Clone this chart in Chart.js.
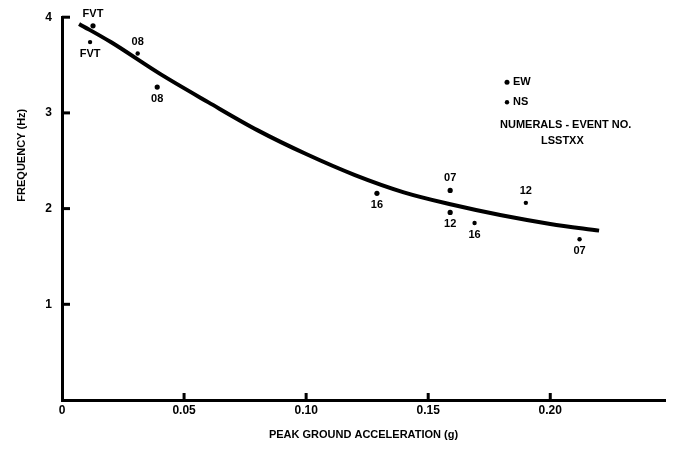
<!DOCTYPE html>
<html>
<head>
<meta charset="utf-8">
<script src="https://cdn.jsdelivr.net/npm/chart.js@4"></script>
<style>
  html, body { margin: 0; padding: 0; background: #fff; }
  #wrap { width: 673px; height: 468px; }
</style>
</head>
<body>
<div id="wrap"><canvas class="js-chart"></canvas></div>
<script>
const xTicks = [0, 0.05, 0.1, 0.15, 0.2];
const xTickLabels = ["0", "0.05", "0.10", "0.15", "0.20"];
const yTicks = [1, 2, 3, 4];

// measured points, east-west and north-south components
const ewAccel = [0.0127, 0.039, 0.129, 0.159, 0.159];
const ewFreq = [3.91, 3.27, 2.16, 2.19, 1.96];
const ewEvent = ["FVT", "08", "16", "07", "12"];
const ewAbove = [true, false, false, true, false];

const nsAccel = [0.0115, 0.031, 0.169, 0.19, 0.212];
const nsFreq = [3.74, 3.62, 1.85, 2.06, 1.68];
const nsEvent = ["FVT", "08", "16", "12", "07"];
const nsAbove = [false, true, false, true, false];

// fitted trend
const fitAccel = [0.007, 0.02, 0.04, 0.06, 0.08, 0.1, 0.12, 0.14, 0.16, 0.18, 0.2, 0.22];
const fitFreq = [3.93, 3.74, 3.41, 3.11, 2.82, 2.57, 2.35, 2.17, 2.04, 1.93, 1.84, 1.77];

const FONT = "'Liberation Sans', Arial, sans-serif";

function toPoints(xs, ys) {
  return xs.map((x, i) => ({ x, y: ys[i] }));
}

const pointLabels = {
  id: "pointLabels",
  afterDatasetsDraw(chart) {
    const ctx = chart.ctx;
    ctx.save();
    ctx.fillStyle = "#000";
    ctx.font = "bold 11px " + FONT;
    ctx.textAlign = "center";
    ctx.textBaseline = "middle";
    chart.data.datasets.forEach((ds, di) => {
      if (!ds.events) return;
      chart.getDatasetMeta(di).data.forEach((el, i) => {
        const dy = ds.above[i] ? -12 : 12;
        ctx.fillText(ds.events[i], el.x, el.y + dy);
      });
    });
    ctx.restore();
  },
};

const axisDecor = {
  id: "axisDecor",
  afterDraw(chart) {
    const ctx = chart.ctx;
    const x = chart.scales.x;
    const y = chart.scales.y;
    const area = chart.chartArea;
    ctx.save();
    ctx.strokeStyle = "#000";
    ctx.lineWidth = 3;
    // inward tick marks
    xTicks.slice(1).forEach((v) => {
      const px = x.getPixelForValue(v);
      ctx.beginPath();
      ctx.moveTo(px, area.bottom);
      ctx.lineTo(px, area.bottom - 7);
      ctx.stroke();
    });
    yTicks.forEach((v) => {
      const py = y.getPixelForValue(v);
      ctx.beginPath();
      ctx.moveTo(area.left, py);
      ctx.lineTo(area.left + 8, py);
      ctx.stroke();
    });

    // y title
    ctx.fillStyle = "#000";
    ctx.font = "bold 11px " + FONT;
    ctx.textAlign = "center";
    ctx.textBaseline = "middle";
    ctx.save();
    ctx.translate(22, area.top + 138);
    ctx.rotate(-Math.PI / 2);
    ctx.fillText("FREQUENCY (Hz)", 0, 0);
    ctx.restore();

    // key
    const kx = area.right - 158;
    const ky = area.top + 65;
    ctx.textAlign = "left";
    ctx.beginPath();
    ctx.arc(kx, ky, 2.5, 0, Math.PI * 2);
    ctx.fill();
    ctx.fillText("EW", kx + 6, ky);
    ctx.beginPath();
    ctx.arc(kx, ky + 20, 2.2, 0, Math.PI * 2);
    ctx.fill();
    ctx.fillText("NS", kx + 6, ky + 20);
    ctx.fillText("NUMERALS - EVENT NO.", kx - 7, ky + 43);
    ctx.fillText("LSSTXX", kx + 34, ky + 59);
    ctx.restore();
  },
};

new Chart(document.querySelector(".js-chart").getContext("2d"), {
  type: "scatter",
  data: {
    datasets: [
      {
        label: "Fit",
        data: toPoints(fitAccel, fitFreq),
        showLine: true,
        borderColor: "#000",
        borderWidth: 4,
        pointRadius: 0,
        cubicInterpolationMode: "monotone",
        fill: false,
      },
      {
        label: "EW",
        data: toPoints(ewAccel, ewFreq),
        events: ewEvent,
        above: ewAbove,
        pointRadius: 2.6,
        backgroundColor: "#000",
        borderWidth: 0,
      },
      {
        label: "NS",
        data: toPoints(nsAccel, nsFreq),
        events: nsEvent,
        above: nsAbove,
        pointRadius: 2.2,
        backgroundColor: "#000",
        borderWidth: 0,
      },
    ],
  },
  options: {
    responsive: true,
    maintainAspectRatio: false,
    animation: false,
    layout: { padding: { top: 17, right: 8, left: 0, bottom: 0 } },
    plugins: {
      legend: { display: false },
      tooltip: { enabled: false },
    },
    scales: {
      x: {
        type: "linear",
        min: 0,
        max: 0.247,
        afterBuildTicks(scale) {
          scale.ticks = xTicks.map((value) => ({ value }));
        },
        afterFit(scale) {
          scale.height = 68;
        },
        grid: { display: false, drawTicks: false },
        border: { color: "#000", width: 3 },
        ticks: {
          color: "#000",
          font: { family: FONT, size: 12, weight: "bold" },
          padding: 3,
          maxRotation: 0,
          callback(value) {
            const i = xTicks.indexOf(value);
            return i >= 0 ? xTickLabels[i] : "";
          },
        },
        title: {
          display: true,
          text: "PEAK GROUND ACCELERATION (g)",
          color: "#000",
          font: { family: FONT, size: 11, weight: "bold" },
          padding: { top: 0, bottom: 26 },
        },
      },
      y: {
        min: 0,
        max: 4,
        afterBuildTicks(scale) {
          scale.ticks = yTicks.map((value) => ({ value }));
        },
        afterFit(scale) {
          scale.width = 62;
        },
        grid: { display: false, drawTicks: false },
        border: { color: "#000", width: 3 },
        ticks: {
          color: "#000",
          font: { family: FONT, size: 12, weight: "bold" },
          padding: 10,
        },
      },
    },
  },
  plugins: [pointLabels, axisDecor],
});
</script>
</body>
</html>
